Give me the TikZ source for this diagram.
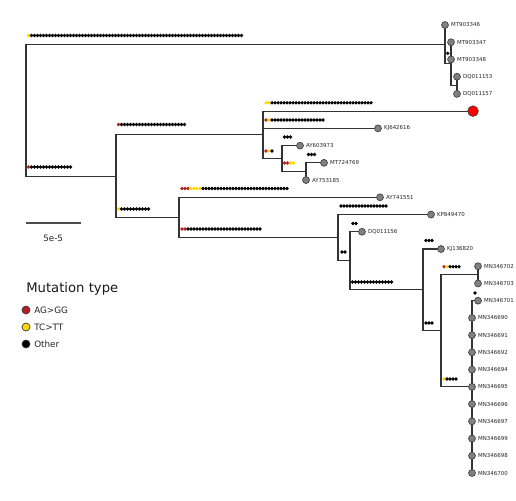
\documentclass[tikz,border=0pt]{standalone}
\usepackage{fontspec}
\setmainfont{DejaVu Sans}
\definecolor{mutR}{RGB}{178,34,34}
\definecolor{mutY}{RGB}{255,215,0}
\definecolor{mutK}{RGB}{0,0,0}
\definecolor{leafgray}{RGB}{128,128,128}
\newcommand{\mutrow}[5]{%
  \ifnum#3>0 \foreach \i in {1,...,#3}{\fill[mutR] ({#1+3*(\i-1)},#2) circle[radius=1.8];}\fi
  \ifnum#4>0 \foreach \i in {1,...,#4}{\fill[mutY] ({#1+3*(\i-1+#3)},#2) circle[radius=1.8];}\fi
  \ifnum#5>0 \foreach \i in {1,...,#5}{\fill[mutK] ({#1+3*(\i-1+#3+#4)},#2) circle[radius=1.8];}\fi
}
\begin{document}
\begin{tikzpicture}[x=0.75pt,y=-0.75pt,
  branch/.style={draw=black!80, line width=0.8pt},
  leaf/.style={circle, minimum size=5.2pt, inner sep=0pt, fill=leafgray, draw=black!75, line width=0.5pt},
  bigred/.style={circle, minimum size=8pt, inner sep=0pt, fill=red, draw=black!75, line width=0.5pt},
  lab/.style={font=\fontsize{4.1}{5}\selectfont, inner sep=0pt, text=black!85},
  legdot/.style={circle, minimum size=6pt, inner sep=0pt, draw=black!80, line width=0.5pt},
  legtext/.style={font=\fontsize{6.6}{8}\selectfont, inner sep=0pt, anchor=west, text=black!85},
  label distance=1.5pt]
\useasboundingbox (0,0) rectangle (516,500);
% inner nodes
\coordinate (R) at (26,110.3);
\coordinate (A) at (445,44.4);
\coordinate (B) at (451,63.77);
\coordinate (C) at (457,85.3);
\coordinate (D) at (116,176.2);
\coordinate (E) at (263,134.9);
\coordinate (F) at (282,158.6);
\coordinate (G) at (306,171.5);
\coordinate (H) at (179,217.5);
\coordinate (I) at (338,237.7);
\coordinate (J) at (350,260.8);
\coordinate (K) at (423,289.9);
\coordinate (L) at (441,330.85);
\coordinate (M) at (478,274.85);
\coordinate (N) at (472,386.85);
% leaves
\coordinate (l0) at (445,25);
\coordinate (l1) at (451,42.23);
\coordinate (l2) at (451,59.46);
\coordinate (l3) at (457,76.69);
\coordinate (l4) at (457,93.92);
\coordinate (l5) at (473,111.15);
\coordinate (l6) at (378,128.38);
\coordinate (l7) at (300,145.62);
\coordinate (l8) at (324,162.85);
\coordinate (l9) at (306,180.08);
\coordinate (l10) at (380,197.31);
\coordinate (l11) at (431,214.54);
\coordinate (l12) at (362,231.77);
\coordinate (l13) at (441,249);
\coordinate (l14) at (478,266.23);
\coordinate (l15) at (478,283.46);
\coordinate (l16) at (478,300.69);
\coordinate (l17) at (472,317.92);
\coordinate (l18) at (472,335.15);
\coordinate (l19) at (472,352.38);
\coordinate (l20) at (472,369.62);
\coordinate (l21) at (472,386.85);
\coordinate (l22) at (472,404.08);
\coordinate (l23) at (472,421.31);
\coordinate (l24) at (472,438.54);
\coordinate (l25) at (472,455.77);
\coordinate (l26) at (472,473);
% branches
\draw[branch] (R) |- (A);
\draw[branch] (R) |- (D);
\draw[branch] (A) |- (l0);
\draw[branch] (A) |- (B);
\draw[branch] (B) |- (l1);
\draw[branch] (B) |- (l2);
\draw[branch] (B) |- (C);
\draw[branch] (C) |- (l3);
\draw[branch] (C) |- (l4);
\draw[branch] (D) |- (E);
\draw[branch] (D) |- (H);
\draw[branch] (E) |- (l5);
\draw[branch] (E) |- (l6);
\draw[branch] (E) |- (F);
\draw[branch] (F) |- (l7);
\draw[branch] (F) |- (G);
\draw[branch] (G) |- (l8);
\draw[branch] (G) |- (l9);
\draw[branch] (H) |- (l10);
\draw[branch] (H) |- (I);
\draw[branch] (I) |- (l11);
\draw[branch] (I) |- (J);
\draw[branch] (J) |- (l12);
\draw[branch] (J) |- (K);
\draw[branch] (K) |- (l13);
\draw[branch] (K) |- (L);
\draw[branch] (L) |- (M);
\draw[branch] (L) |- (N);
\draw[branch] (M) |- (l14);
\draw[branch] (M) |- (l15);
\foreach \k in {16,...,26}{\draw[branch] (N) |- (l\k);}
% mutation rows: x0, y, nRed, nYellow, nBlack
\mutrow{28.5}{35.5}{0}{1}{71}
\mutrow{28.5}{167}{1}{0}{14}
\mutrow{118.5}{124.5}{1}{0}{22}
\mutrow{118.5}{209}{0}{1}{10}
\mutrow{266}{102.8}{0}{2}{34}
\mutrow{266}{120}{1}{1}{18}
\mutrow{266}{151}{1}{1}{1}
\mutrow{284.5}{137}{0}{0}{3}
\mutrow{284.5}{163}{2}{2}{0}
\mutrow{308.5}{154.5}{0}{0}{3}
\mutrow{182}{188.5}{3}{4}{29}
\mutrow{182}{229}{2}{0}{25}
\mutrow{341}{206}{0}{0}{16}
\mutrow{342}{252}{0}{0}{2}
\mutrow{353}{223.5}{0}{0}{2}
\mutrow{352.5}{282}{0}{0}{14}
\mutrow{426}{240.5}{0}{0}{3}
\mutrow{426}{323}{0}{0}{3}
\mutrow{444}{266.7}{1}{1}{4}
\mutrow{444}{379}{0}{1}{4}
\mutrow{447.7}{53.3}{0}{0}{1}
\mutrow{475}{293}{0}{0}{1}
% leaf nodes
\node[leaf, label={[lab]0:MT903346}] (n0) at (l0) {};
\node[leaf, label={[lab]0:MT903347}] (n1) at (l1) {};
\node[leaf, label={[lab]0:MT903348}] (n2) at (l2) {};
\node[leaf, label={[lab]0:DQ011153}] (n3) at (l3) {};
\node[leaf, label={[lab]0:DQ011157}] (n4) at (l4) {};
\node[bigred] (n5) at (l5) {};
\node[leaf, label={[lab]0:KJ642616}] (n6) at (l6) {};
\node[leaf, label={[lab]0:AY603973}] (n7) at (l7) {};
\node[leaf, label={[lab]0:MT724769}] (n8) at (l8) {};
\node[leaf, label={[lab]0:AY753185}] (n9) at (l9) {};
\node[leaf, label={[lab]0:AY741551}] (n10) at (l10) {};
\node[leaf, label={[lab]0:KP849470}] (n11) at (l11) {};
\node[leaf, label={[lab]0:DQ011156}] (n12) at (l12) {};
\node[leaf, label={[lab]0:KJ136820}] (n13) at (l13) {};
\node[leaf, label={[lab]0:MN346702}] (n14) at (l14) {};
\node[leaf, label={[lab]0:MN346703}] (n15) at (l15) {};
\node[leaf, label={[lab]0:MN346701}] (n16) at (l16) {};
\node[leaf, label={[lab]0:MN346690}] (n17) at (l17) {};
\node[leaf, label={[lab]0:MN346691}] (n18) at (l18) {};
\node[leaf, label={[lab]0:MN346692}] (n19) at (l19) {};
\node[leaf, label={[lab]0:MN346694}] (n20) at (l20) {};
\node[leaf, label={[lab]0:MN346695}] (n21) at (l21) {};
\node[leaf, label={[lab]0:MN346696}] (n22) at (l22) {};
\node[leaf, label={[lab]0:MN346697}] (n23) at (l23) {};
\node[leaf, label={[lab]0:MN346699}] (n24) at (l24) {};
\node[leaf, label={[lab]0:MN346698}] (n25) at (l25) {};
\node[leaf, label={[lab]0:MN346700}] (n26) at (l26) {};
% scale bar
\coordinate (sb1) at (26,223);
\coordinate (sb2) at (80.5,223);
\draw[draw=black!70, line width=1pt] (sb1) -- (sb2);
\node[font=\fontsize{6.6}{8}\selectfont, inner sep=0pt, text=black!85] (sblab) at (53.2,238) {5e-5};
% legend
\node[font=\fontsize{9.9}{12}\selectfont, inner sep=0pt, anchor=west, text=black!90] (legtitle) at (26,288.5) {Mutation type};
\node[legdot, fill=mutR] (ld1) at (26,310) {};
\node[legdot, fill=mutY] (ld2) at (26,327) {};
\node[legdot, fill=mutK] (ld3) at (26,344) {};
\node[legtext] (lt1) at (34,310) {AG>GG};
\node[legtext] (lt2) at (34,327) {TC>TT};
\node[legtext] (lt3) at (34,344) {Other};
\end{tikzpicture}
\end{document}
